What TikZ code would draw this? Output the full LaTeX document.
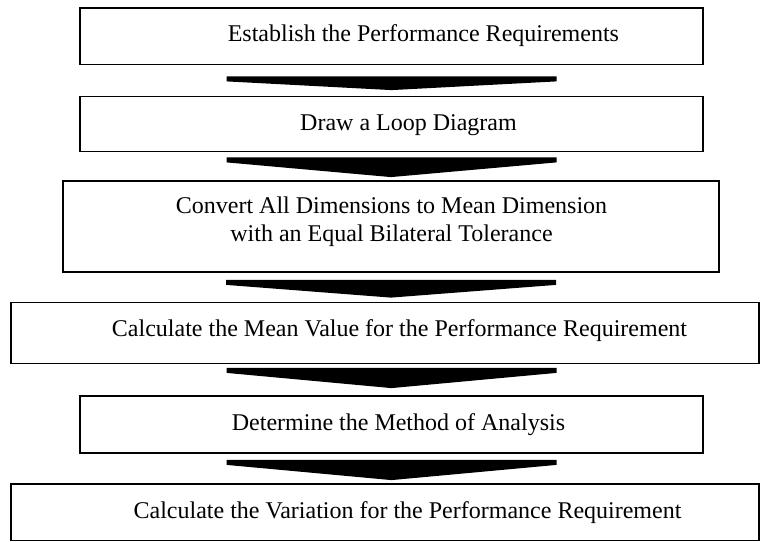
\documentclass[tikz,border=0pt]{standalone}
\usepackage{fontspec}
\setmainfont{Liberation Serif}
\usetikzlibrary{calc}
\newcommand\blkarrow[4]{\fill[black] ($(#1)+(-165,#2)$) -- ($(#1)+(165,#2)$) -- ($(#1)+(165,#2+5)$) -- ($(#3)+(0,-#4)$) -- ($(#1)+(-165,#2+5)$) -- cycle;}
\begin{document}
\begin{tikzpicture}[x=1bp,y=-1bp,
  box/.style={draw=black, line width=1.8bp, rectangle, inner sep=0pt, fill=white},
  lbl/.style={inner sep=0pt, anchor=base, font=\fontsize{24bp}{28bp}\selectfont, text=black}]
\useasboundingbox (0,0) rectangle (760,542);
\fill[white] (0,0) rectangle (760,542);
% boxes
\node[box, minimum width=623bp, minimum height=56.5bp] (b1) at (391.5,36.25) {};
\node[box, minimum width=623bp, minimum height=55bp]   (b2) at (391.5,124) {};
\node[box, minimum width=656bp, minimum height=91bp]   (b3) at (391,226.5) {};
\node[box, minimum width=748bp, minimum height=61bp]   (b4) at (385,333) {};
\node[box, minimum width=623bp, minimum height=57bp]   (b5) at (391.5,424.5) {};
\node[box, minimum width=748bp, minimum height=56.5bp] (b6) at (385,512.25) {};
% texts
\node[lbl] (t1) at (423.4,41.5) {Establish the Performance Requirements};
\node[lbl] (t2) at (408.5,130.5) {Draw a Loop Diagram};
\node[lbl] (t3) at (391.5,214) {Convert All Dimensions to Mean Dimension};
\node[lbl] (t3b) at (391.5,242) {with an Equal Bilateral Tolerance};
\node[lbl] (t4) at (399.5,336.5) {Calculate the Mean Value for the Performance Requirement};
\node[lbl] (t5) at (398.5,430) {Determine the Method of Analysis};
\node[lbl] (t6) at (407.5,518) {Calculate the Variation for the Performance Requirement};
% reference points for the block arrows
\coordinate (a3tip) at (b4.north -| b3.south);
\coordinate (a4top) at (b4.south -| b5.north);
\coordinate (a5tip) at (b6.north -| b5.south);
% block arrows
\blkarrow{b1.south}{11}{b2.north}{5.5}
\blkarrow{b2.south}{5}{b3.north}{3}
\blkarrow{b3.south}{7}{a3tip}{4}
\blkarrow{a4top}{3.5}{b5.north}{7}
\blkarrow{b5.south}{6}{a5tip}{3}
\end{tikzpicture}
\end{document}
